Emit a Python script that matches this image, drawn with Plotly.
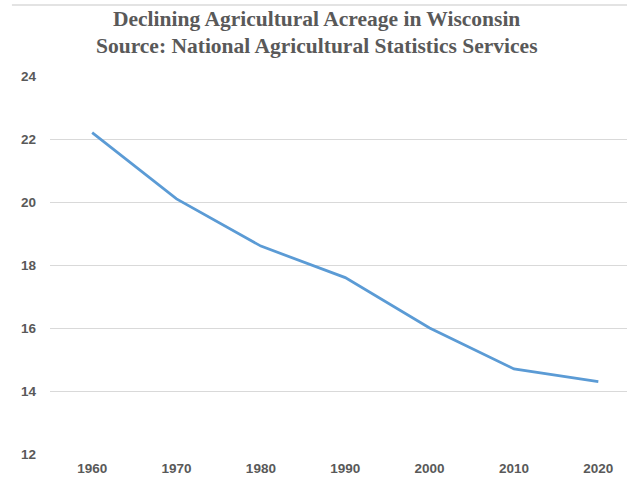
import plotly.graph_objects as go

years = [1960, 1970, 1980, 1990, 2000, 2010, 2020]
acres = [22.2, 20.1, 18.6, 17.6, 16.0, 14.7, 14.3]
y_ticks = [12, 14, 16, 18, 20, 22, 24]
title_lines = ["Declining Agricultural Acreage in Wisconsin",
               "Source: National Agricultural Statistics Services"]

fig = go.Figure()
fig.add_trace(go.Scatter(x=years, y=acres, mode="lines",
                         line=dict(color="#5b9bd5", width=2.75),
                         hoverinfo="x+y"))

fig.update_layout(
    width=627, height=478,
    margin=dict(l=50, r=0, t=76, b=24),
    paper_bgcolor="white", plot_bgcolor="white",
    showlegend=False,
    xaxis=dict(range=[1955, 2023.4], tickvals=years, ticktext=[str(y) for y in years],
               showgrid=False, zeroline=False, showline=False, ticks="",
               tickfont=dict(family="Liberation Sans", size=13.5, color="#595959", weight="bold"),
               ticklabelstandoff=4),
    yaxis=dict(range=[12, 24], tickvals=y_ticks, showgrid=True, gridcolor="#d9d9d9",
               gridwidth=1, zeroline=False, showline=False, ticks="",
               tickfont=dict(family="Liberation Sans", size=13.5, color="#595959", weight="bold"),
               ticklabelstandoff=13),
)
for txt, yp in zip(title_lines, [1.1521, 1.0794]):
    fig.add_annotation(text=txt, xref="paper", yref="paper", x=0.4627, y=yp,
                       xanchor="center", yanchor="middle", showarrow=False, borderpad=0,
                       font=dict(family="Liberation Serif", size=21.5, color="#595959",
                                 weight="bold"))
fig.add_shape(type="line", xref="paper", yref="paper", x0=-0.066, x1=1.0,
              y0=1.188, y1=1.188, line=dict(color="#e3e3e3", width=2))

fig.write_html("out.html", config={"displayModeBar": False},
               post_script="document.body.style.margin='0px';")
